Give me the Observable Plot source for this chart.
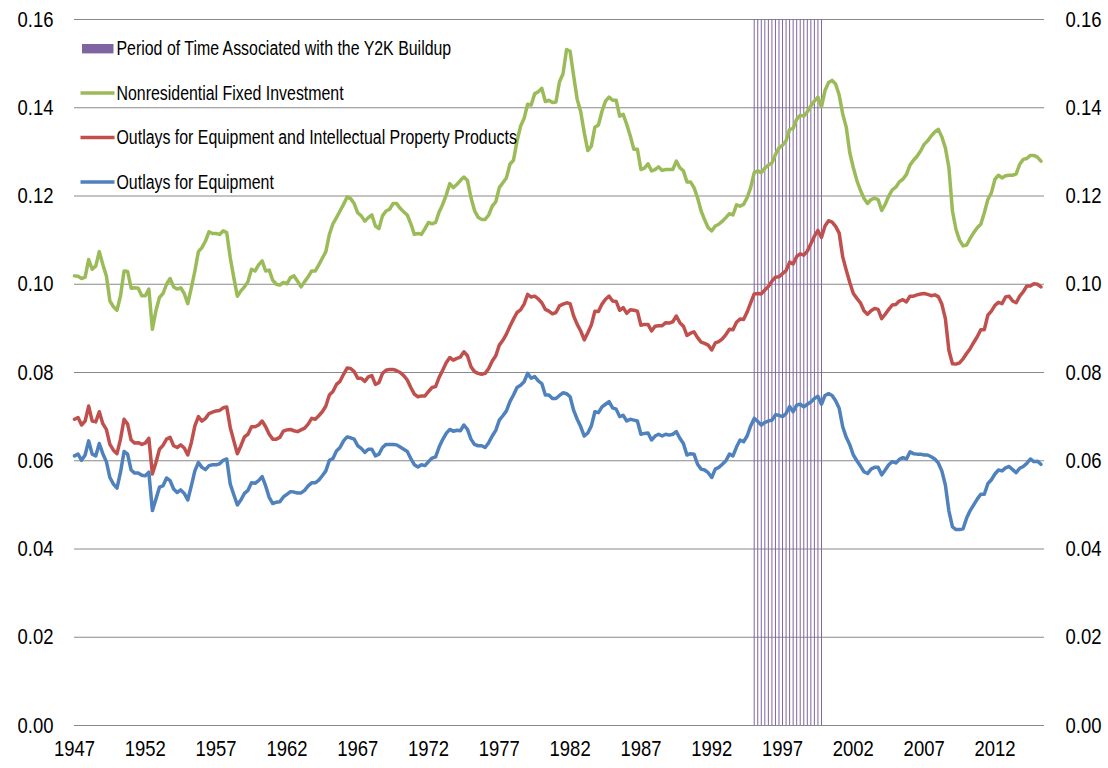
<!DOCTYPE html>
<html>
<head>
<meta charset="utf-8">
<script src="https://cdn.jsdelivr.net/npm/d3@7"></script>
<script src="https://cdn.jsdelivr.net/npm/@observablehq/plot@0.6"></script>
<style>
  body { margin: 0; background: #fff; }
  #chart svg { display: block; }
</style>
</head>
<body>
<div id="chart"></div>
<script>
// ---- Data (quarterly, starting 1947 Q1) ----
const startYear = 1947;

const nonresidential = [
0.1019,0.1018,0.1013,0.1016,0.1056,0.1034,0.1041,0.1074,0.1045,0.1019,
0.0962,0.0949,0.0941,0.0974,0.1030,0.1029,0.0991,0.0992,0.0991,0.0974,
0.0974,0.0989,0.0898,0.0940,0.0970,0.0979,0.1000,0.1013,0.0994,0.0989,
0.0992,0.0979,0.0956,0.0992,0.1030,0.1074,0.1083,0.1098,0.1119,0.1115,
0.1115,0.1113,0.1121,0.1117,0.1060,0.1015,0.0973,0.0985,0.0994,0.1006,
0.1034,0.1030,0.1044,0.1053,0.1030,0.1032,0.1009,0.1000,0.0998,0.1004,
0.1001,0.1015,0.1019,0.1007,0.0994,0.1006,0.1017,0.1030,0.1030,0.1044,
0.1059,0.1074,0.1113,0.1137,0.1151,0.1166,0.1181,0.1198,0.1194,0.1183,
0.1162,0.1155,0.1143,0.1151,0.1157,0.1132,0.1126,0.1155,0.1166,0.1170,
0.1183,0.1183,0.1172,0.1164,0.1157,0.1137,0.1113,0.1115,0.1113,0.1126,
0.1140,0.1137,0.1140,0.1164,0.1181,0.1202,0.1228,0.1219,0.1226,0.1235,
0.1243,0.1235,0.1196,0.1167,0.1152,0.1147,0.1147,0.1157,0.1177,0.1187,
0.1219,0.1230,0.1241,0.1272,0.1281,0.1325,0.1358,0.1376,0.1408,0.1406,
0.1432,0.1436,0.1444,0.1414,0.1417,0.1412,0.1413,0.1459,0.1477,0.1532,
0.1528,0.1472,0.1419,0.1391,0.1343,0.1303,0.1313,0.1356,0.1361,0.1392,
0.1415,0.1424,0.1417,0.1417,0.1381,0.1385,0.1362,0.1336,0.1306,0.1306,
0.1260,0.1263,0.1273,0.1257,0.1260,0.1266,0.1258,0.1260,0.1260,0.1260,
0.1279,0.1264,0.1257,0.1232,0.1232,0.1219,0.1196,0.1166,0.1146,0.1128,
0.1121,0.1132,0.1136,0.1143,0.1151,0.1160,0.1157,0.1180,0.1177,0.1181,
0.1196,0.1219,0.1253,0.1257,0.1253,0.1263,0.1270,0.1275,0.1294,0.1309,
0.1315,0.1325,0.1351,0.1353,0.1374,0.1383,0.1381,0.1391,0.1404,0.1415,
0.1424,0.1402,0.1439,0.1457,0.1462,0.1454,0.1429,0.1386,0.1356,0.1298,
0.1264,0.1235,0.1213,0.1195,0.1183,0.1192,0.1195,0.1192,0.1167,0.1181,
0.1200,0.1214,0.1220,0.1232,0.1238,0.1249,0.1270,0.1281,0.1290,0.1302,
0.1317,0.1325,0.1336,0.1345,0.1351,0.1334,0.1309,0.1264,0.1166,0.1124,
0.1100,0.1087,0.1089,0.1104,0.1117,0.1128,0.1136,0.1162,0.1192,0.1207,
0.1238,0.1247,0.1241,0.1246,0.1247,0.1247,0.1250,0.1272,0.1283,0.1285,
0.1292,0.1292,0.1288,0.1279
];

const equipmentAndIPP = [
0.0694,0.0698,0.0681,0.0690,0.0724,0.0690,0.0688,0.0711,0.0684,0.0671,
0.0637,0.0624,0.0616,0.0649,0.0694,0.0683,0.0647,0.0640,0.0641,0.0637,
0.0640,0.0651,0.0570,0.0596,0.0626,0.0635,0.0649,0.0653,0.0634,0.0630,
0.0636,0.0629,0.0613,0.0641,0.0679,0.0700,0.0690,0.0696,0.0707,0.0710,
0.0713,0.0714,0.0720,0.0722,0.0675,0.0645,0.0616,0.0634,0.0654,0.0660,
0.0677,0.0677,0.0681,0.0690,0.0677,0.0660,0.0649,0.0649,0.0653,0.0667,
0.0670,0.0671,0.0668,0.0666,0.0670,0.0674,0.0683,0.0696,0.0694,0.0702,
0.0711,0.0724,0.0749,0.0757,0.0773,0.0780,0.0796,0.0810,0.0809,0.0802,
0.0787,0.0787,0.0780,0.0790,0.0793,0.0773,0.0777,0.0798,0.0805,0.0807,
0.0807,0.0804,0.0800,0.0793,0.0783,0.0766,0.0751,0.0745,0.0747,0.0747,
0.0757,0.0766,0.0768,0.0789,0.0805,0.0822,0.0834,0.0828,0.0832,0.0835,
0.0847,0.0838,0.0813,0.0802,0.0798,0.0796,0.0798,0.0809,0.0826,0.0838,
0.0862,0.0873,0.0887,0.0905,0.0921,0.0936,0.0942,0.0955,0.0977,0.0971,
0.0973,0.0967,0.0958,0.0943,0.0939,0.0933,0.0936,0.0951,0.0955,0.0958,
0.0956,0.0928,0.0909,0.0894,0.0874,0.0890,0.0908,0.0939,0.0938,0.0955,
0.0966,0.0973,0.0962,0.0961,0.0941,0.0947,0.0934,0.0942,0.0941,0.0939,
0.0907,0.0909,0.0909,0.0894,0.0905,0.0906,0.0906,0.0913,0.0912,0.0915,
0.0928,0.0913,0.0905,0.0884,0.0889,0.0892,0.0879,0.0869,0.0866,0.0862,
0.0851,0.0867,0.0870,0.0876,0.0886,0.0898,0.0897,0.0914,0.0921,0.0920,
0.0937,0.0958,0.0978,0.0979,0.0978,0.0987,0.0995,0.1007,0.1016,0.1017,
0.1024,0.1031,0.1050,0.1046,0.1063,0.1069,0.1066,0.1075,0.1092,0.1109,
0.1122,0.1106,0.1132,0.1144,0.1141,0.1131,0.1116,0.1062,0.1032,0.1004,
0.0979,0.0968,0.0958,0.0940,0.0932,0.0940,0.0945,0.0943,0.0922,0.0932,
0.0943,0.0953,0.0954,0.0962,0.0965,0.0960,0.0973,0.0973,0.0976,0.0978,
0.0979,0.0977,0.0974,0.0976,0.0972,0.0955,0.0922,0.0850,0.0820,0.0819,
0.0822,0.0831,0.0843,0.0854,0.0868,0.0881,0.0897,0.0897,0.0930,0.0939,
0.0952,0.0959,0.0956,0.0971,0.0973,0.0962,0.0958,0.0973,0.0983,0.0996,
0.0996,0.1001,0.1000,0.0994
];

const equipment = [
0.0611,0.0615,0.0601,0.0613,0.0645,0.0615,0.0611,0.0639,0.0616,0.0598,
0.0562,0.0547,0.0538,0.0574,0.0621,0.0615,0.0579,0.0572,0.0572,0.0567,
0.0566,0.0574,0.0487,0.0513,0.0540,0.0543,0.0561,0.0555,0.0536,0.0528,
0.0534,0.0526,0.0511,0.0543,0.0577,0.0596,0.0585,0.0580,0.0589,0.0591,
0.0591,0.0593,0.0601,0.0604,0.0547,0.0523,0.0500,0.0511,0.0526,0.0533,
0.0550,0.0549,0.0555,0.0564,0.0543,0.0517,0.0503,0.0506,0.0507,0.0518,
0.0524,0.0530,0.0529,0.0527,0.0527,0.0533,0.0543,0.0550,0.0550,0.0556,
0.0566,0.0577,0.0601,0.0605,0.0622,0.0630,0.0645,0.0654,0.0652,0.0649,
0.0634,0.0628,0.0619,0.0626,0.0626,0.0611,0.0615,0.0630,0.0637,0.0637,
0.0637,0.0636,0.0631,0.0626,0.0621,0.0605,0.0591,0.0586,0.0591,0.0589,
0.0598,0.0606,0.0609,0.0631,0.0648,0.0662,0.0671,0.0667,0.0669,0.0668,
0.0681,0.0671,0.0649,0.0637,0.0634,0.0634,0.0630,0.0641,0.0656,0.0669,
0.0692,0.0702,0.0713,0.0734,0.0749,0.0766,0.0771,0.0779,0.0798,0.0787,
0.0791,0.0781,0.0775,0.0749,0.0749,0.0741,0.0741,0.0748,0.0754,0.0752,
0.0745,0.0714,0.0694,0.0677,0.0656,0.0663,0.0679,0.0711,0.0709,0.0722,
0.0728,0.0734,0.0720,0.0717,0.0700,0.0703,0.0690,0.0694,0.0692,0.0690,
0.0660,0.0662,0.0663,0.0647,0.0656,0.0660,0.0656,0.0660,0.0658,0.0660,
0.0666,0.0651,0.0639,0.0613,0.0616,0.0615,0.0592,0.0581,0.0579,0.0573,
0.0562,0.0581,0.0585,0.0592,0.0600,0.0615,0.0611,0.0631,0.0647,0.0643,
0.0656,0.0679,0.0696,0.0689,0.0681,0.0687,0.0690,0.0692,0.0704,0.0703,
0.0700,0.0707,0.0723,0.0711,0.0726,0.0728,0.0722,0.0728,0.0733,0.0741,
0.0746,0.0728,0.0748,0.0752,0.0748,0.0736,0.0719,0.0677,0.0653,0.0636,
0.0613,0.0600,0.0588,0.0575,0.0571,0.0581,0.0585,0.0585,0.0568,0.0579,
0.0591,0.0598,0.0595,0.0603,0.0607,0.0604,0.0620,0.0616,0.0615,0.0615,
0.0613,0.0613,0.0609,0.0604,0.0595,0.0577,0.0545,0.0486,0.0450,0.0444,
0.0444,0.0446,0.0470,0.0487,0.0500,0.0513,0.0524,0.0524,0.0548,0.0557,
0.0570,0.0579,0.0577,0.0584,0.0587,0.0580,0.0573,0.0583,0.0587,0.0594,
0.0604,0.0598,0.0599,0.0592
];

// Y2K buildup period: 1995 Q1 through 1999 Q4
const y2kFirstQuarter = 1995;
const y2kLastQuarter = 1999.75;

const xTicks = [1947,1952,1957,1962,1967,1972,1977,1982,1987,1992,1997,2002,2007,2012];
const yTicks = [0,0.02,0.04,0.06,0.08,0.10,0.12,0.14,0.16];

const seriesNames = [
  "Nonresidential Fixed Investment",
  "Outlays for Equipment and Intellectual Property Products",
  "Outlays for Equipment"
];
const seriesColors = ["#9BBB59", "#C0504D", "#4F81BD"];
const y2kLabel = "Period of Time Associated with the Y2K Buildup";
const y2kColor = "#8064A2";

// ---- Build tables ----
const seriesArrays = [nonresidential, equipmentAndIPP, equipment];
const rows = [];
seriesArrays.forEach((arr, s) => arr.forEach((v, i) => rows.push({series: seriesNames[s], t: startYear + i / 4, v})));
const y2kQuarters = d3.range(y2kFirstQuarter, y2kLastQuarter + 0.001, 0.25);

const fontFamily = '"Liberation Sans", Arial, sans-serif';
const narrow = 0.82; // emulate a narrow (condensed) face

const chart = Plot.plot({
  width: 1108,
  height: 768,
  marginTop: 19,
  marginBottom: 43,
  marginLeft: 74,
  marginRight: 64,
  style: {fontFamily, fontSize: "22.5px", color: "#000", background: "#fff"},
  x: {domain: [1947, 2015.5], ticks: xTicks, tickFormat: d3.format("d"), tickSize: 0, tickPadding: 15, label: null},
  y: {domain: [0, 0.16], axis: "both", ticks: yTicks, tickFormat: d3.format(".2f"), tickSize: 0, tickPadding: 21, label: null},
  color: {domain: seriesNames, range: seriesColors},
  marks: [
    Plot.ruleY(yTicks, {stroke: "#898989", strokeWidth: 1}),
    Plot.ruleX(y2kQuarters, {x: d => d, y1: 0, y2: 0.16, stroke: y2kColor, strokeWidth: 1}),
    Plot.line(rows, {x: "t", y: "v", z: "series", stroke: "series", strokeWidth: 3.5, strokeLinejoin: "round", strokeLinecap: "round"})
  ]
});

document.getElementById("chart").appendChild(chart);

// ---- In-plot legend ----
const svg = d3.select(chart);
const lg = svg.append("g")
  .attr("font-family", fontFamily).attr("font-size", 19.4).attr("fill", "#000")
  .attr("text-anchor", "start");
const legendEntries = [{label: y2kLabel, color: y2kColor, kind: "rect"}]
  .concat(seriesNames.map((n, k) => ({label: n, color: seriesColors[k], kind: "line"})));
legendEntries.forEach((e, k) => {
  const cy = 48.7 + k * 44.4;
  if (e.kind === "rect") {
    lg.append("rect").attr("x", 82).attr("y", cy - 4.7).attr("width", 31.5).attr("height", 9.4).attr("fill", e.color);
  } else {
    lg.append("line").attr("x1", 80.5).attr("x2", 114.5).attr("y1", cy).attr("y2", cy)
      .attr("stroke", e.color).attr("stroke-width", 3.5);
  }
  lg.append("text").attr("x", 116.5).attr("y", cy).attr("dy", "0.35em").attr("text-anchor", "start").text(e.label);
});

// Condense every text horizontally (the original uses a narrow typeface)
svg.selectAll("text").each(function () {
  const L = this.getComputedTextLength();
  if (L > 0) {
    this.setAttribute("textLength", (L * narrow).toFixed(2));
    this.setAttribute("lengthAdjust", "spacingAndGlyphs");
  }
});
</script>
</body>
</html>
